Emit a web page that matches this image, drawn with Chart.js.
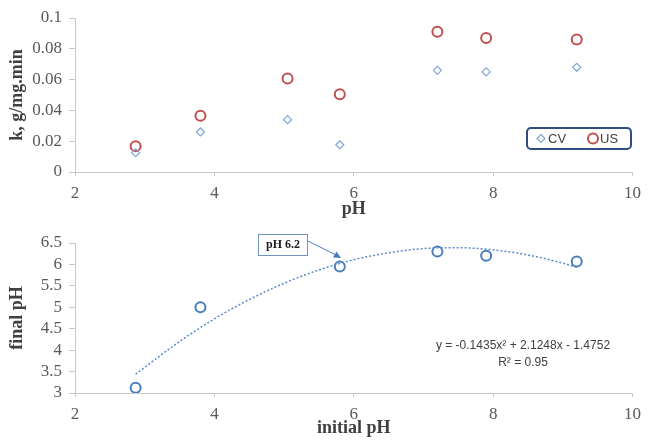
<!DOCTYPE html>
<html lang="en">
<head>
    <meta charset="UTF-8">
    <title>k and final pH vs initial pH</title>
    <script src="https://cdn.jsdelivr.net/npm/chart.js"></script>
    <style>
        body { margin: 0; background: #fff; }
        .wrap { position: absolute; left: 0; width: 648px; }
        #top { top: 0; height: 220px; }
        #bottom { top: 220px; height: 223px; }
    </style>
</head>
<body>
<div class="wrap" id="top"><canvas id="kChart"></canvas></div>
<div class="wrap" id="bottom"><canvas id="phChart"></canvas></div>
<script>
// top chart: rate constant k vs pH
const phValues = [2.87, 3.8, 5.05, 5.8, 7.2, 7.9, 9.2];
const kCV = [0.0125, 0.026, 0.034, 0.0177, 0.066, 0.065, 0.068];
const kUS = [0.0168, 0.0365, 0.0607, 0.0505, 0.091, 0.087, 0.086];

// bottom chart: final pH vs initial pH
const initialPH = [2.87, 3.8, 5.8, 7.2, 7.9, 9.2];
const finalPH = [3.12, 5.0, 5.95, 6.3, 6.2, 6.07];
// dotted trend curve
const trendX = [2.87, 3.5, 4, 4.5, 5, 5.5, 6, 6.5, 7, 7.5, 8, 8.5, 9, 9.2];
const trendY = [3.44, 4.2, 4.73, 5.18, 5.56, 5.87, 6.11, 6.27, 6.37, 6.39, 6.34, 6.22, 6.03, 5.93];

const equation = 'y = -0.1435x² + 2.1248x - 1.4752';
const rSquared = 'R² = 0.95';
const calloutText = 'pH 6.2';

const pts = (xs, ys) => xs.map((x, i) => ({x: x, y: ys[i]}));
const serif = "'Liberation Serif', 'DejaVu Serif', serif";
const sans = "'Liberation Sans', Arial, sans-serif";
const axisGrey = '#c8c8c8';
const tickGrey = '#595959';

function axes(yMin, yMax, yStep, xTitle, yTitle, xPadBottom, dec) {
    return {
        x: {
            type: 'linear', min: 2, max: 10,
            ticks: { stepSize: 2, color: tickGrey, font: { family: serif, size: 17 }, padding: 7, maxRotation: 0, autoSkip: false },
            grid: { drawOnChartArea: false, tickLength: 4, color: axisGrey },
            border: { color: axisGrey },
            title: { display: true, text: xTitle, color: '#404040', font: { family: serif, size: 18, weight: 'bold' }, padding: { top: 0, bottom: xPadBottom } },
            afterFit: s => { s.height = xPadBottom === 0 ? 48 : 50; }
        },
        y: {
            min: yMin, max: yMax,
            ticks: { stepSize: yStep, color: tickGrey, font: { family: serif, size: 17 }, padding: 7, autoSkip: false,
                     callback: v => String(+v.toFixed(dec)) },
            grid: { drawOnChartArea: false, tickLength: 6, color: axisGrey },
            border: { color: axisGrey },
            title: { display: true, text: yTitle, color: '#404040', font: { family: serif, size: 18, weight: 'bold' }, padding: { top: 7, bottom: 0 } },
            afterFit: s => { s.width = 75; }
        }
    };
}

// legend box drawn inside the top plot
const boxLegend = {
    id: 'boxLegend',
    afterDraw(chart) {
        const ctx = chart.ctx;
        ctx.save();
        ctx.beginPath();
        ctx.roundRect(527, 128, 104, 21, 4);
        ctx.fillStyle = '#fff';
        ctx.fill();
        ctx.lineWidth = 2;
        ctx.strokeStyle = '#2f4d7e';
        ctx.stroke();
        const items = [[541, 548], [593, 600]];
        chart.data.datasets.forEach((ds, i) => {
            const [mx, tx] = items[i];
            ctx.strokeStyle = ds.borderColor;
            ctx.lineWidth = ds.borderWidth;
            ctx.beginPath();
            if (i === 0) {
                ctx.moveTo(mx, 134.5); ctx.lineTo(mx + 4, 138.5); ctx.lineTo(mx, 142.5); ctx.lineTo(mx - 4, 138.5); ctx.closePath();
            } else {
                ctx.arc(mx, 138.5, 5, 0, Math.PI * 2);
            }
            ctx.stroke();
            ctx.fillStyle = '#404040';
            ctx.font = '13px ' + sans;
            ctx.textBaseline = 'middle';
            ctx.fillText(ds.label, tx, 139);
        });
        ctx.restore();
    }
};

// callout and trend equation for the bottom plot
const notes = {
    id: 'notes',
    afterDraw(chart) {
        const ctx = chart.ctx;
        ctx.save();
        ctx.fillStyle = '#fff';
        ctx.fillRect(258.5, 14.5, 49, 21);
        ctx.strokeStyle = '#6f94c4';
        ctx.lineWidth = 1;
        ctx.strokeRect(258.5, 14.5, 49, 21);
        ctx.fillStyle = '#222';
        ctx.font = 'bold 12px ' + serif;
        ctx.textAlign = 'center';
        ctx.textBaseline = 'middle';
        ctx.fillText(calloutText, 283, 25);
        // arrow
        ctx.strokeStyle = '#4a7ebb';
        ctx.lineWidth = 1;
        ctx.beginPath();
        ctx.moveTo(308, 21);
        ctx.lineTo(336, 35);
        ctx.stroke();
        ctx.fillStyle = '#4a7ebb';
        ctx.beginPath();
        ctx.moveTo(341, 38);
        ctx.lineTo(333, 37.5);
        ctx.lineTo(336.5, 31.5);
        ctx.closePath();
        ctx.fill();
        // equation
        ctx.fillStyle = '#404040';
        ctx.font = '12px ' + sans;
        ctx.fillText(equation, 523, 126);
        ctx.fillText(rSquared, 523, 143);
        ctx.restore();
    }
};

new Chart(document.getElementById('kChart'), {
    type: 'scatter',
    data: {
        datasets: [
            { label: 'CV', data: pts(phValues, kCV), pointStyle: 'rectRot', radius: 4, borderColor: '#7fa6d8', backgroundColor: 'rgba(0,0,0,0)', borderWidth: 1.2 },
            { label: 'US', data: pts(phValues, kUS), pointStyle: 'circle', radius: 5, borderColor: '#c0504d', backgroundColor: 'rgba(0,0,0,0)', borderWidth: 2 }
        ]
    },
    options: {
        responsive: true, maintainAspectRatio: false, animation: false,
        layout: { padding: { left: 0, right: 9, top: 18, bottom: 0 } },
        plugins: { legend: { display: false }, tooltip: { enabled: false } },
        scales: axes(0, 0.1, 0.02, 'pH', 'k, g/mg.min', 0, 2)
    },
    plugins: [boxLegend]
});

new Chart(document.getElementById('phChart'), {
    type: 'scatter',
    data: {
        datasets: [
            { label: 'trend', data: pts(trendX, trendY), showLine: true, pointRadius: 0, borderColor: '#5b8bc9', borderWidth: 1.5, borderDash: [2, 2], tension: 0.4, cubicInterpolationMode: 'monotone' },
            { label: 'final pH', data: pts(initialPH, finalPH), pointStyle: 'circle', radius: 5, borderColor: '#4a7ebb', backgroundColor: 'rgba(0,0,0,0)', borderWidth: 2 }
        ]
    },
    options: {
        responsive: true, maintainAspectRatio: false, animation: false,
        layout: { padding: { left: 0, right: 9, top: 23, bottom: 0 } },
        plugins: { legend: { display: false }, tooltip: { enabled: false } },
        scales: axes(3, 6.5, 0.5, 'initial pH', 'final pH', 4, 1)
    },
    plugins: [notes]
});
</script>
</body>
</html>
